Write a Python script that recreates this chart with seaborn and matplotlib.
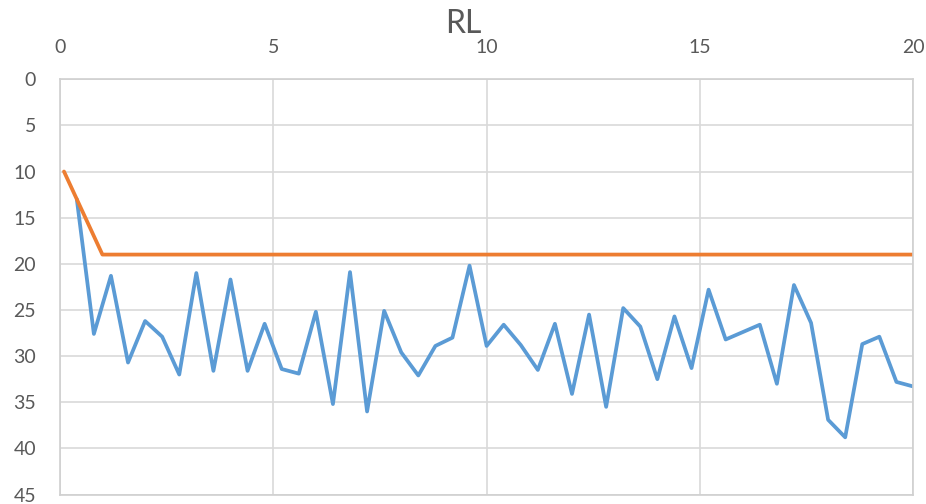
import matplotlib
matplotlib.use("Agg")
import matplotlib.pyplot as plt
import seaborn as sns
import pandas as pd

# Series data
rl_x = [0.4 * k for k in range(1, 51)]
rl_values = [13.0, 27.6, 21.3, 30.7, 26.2, 27.9, 32.0, 21.0, 31.6, 21.7,
             31.6, 26.5, 31.4, 31.9, 25.2, 35.2, 20.9, 36.0, 25.1, 29.6,
             32.1, 28.9, 28.0, 20.2, 28.9, 26.6, 28.8, 31.5, 26.5, 34.1,
             25.5, 35.5, 24.8, 26.8, 32.5, 25.7, 31.3, 22.8, 28.2, 27.4,
             26.6, 33.0, 22.3, 26.4, 36.9, 38.8, 28.7, 27.9, 32.8, 33.3]
limit_x = [0.1, 1.0, 20.0]
limit_values = [10, 19, 19]

x_ticks = [0, 5, 10, 15, 20]
y_ticks = [0, 5, 10, 15, 20, 25, 30, 35, 40, 45]

sns.set_style("white")
plt.rcParams["font.family"] = ["Lato", "DejaVu Sans"]

rl_df = pd.DataFrame({"x": rl_x, "y": rl_values})
limit_df = pd.DataFrame({"x": limit_x, "y": limit_values})

fig = plt.figure(figsize=(9.26, 5.04), dpi=100)
ax = fig.add_axes([0.0645, 0.0188, 0.922, 0.824])

sns.lineplot(data=rl_df, x="x", y="y", ax=ax, color="#5b9bd5",
             linewidth=2.7, sort=False, solid_joinstyle="round")
sns.lineplot(data=limit_df, x="x", y="y", ax=ax, color="#ed7d31",
             linewidth=2.7, sort=False, solid_joinstyle="round")

ax.set_xlim(0, 20)
ax.set_ylim(45, 0)
ax.set_xticks(x_ticks)
ax.set_yticks(y_ticks)
ax.xaxis.tick_top()
ax.set_xlabel("")
ax.set_ylabel("")
ax.grid(True, color="#d9d9d9", linewidth=1.2)
ax.set_axisbelow(True)
for s in ax.spines.values():
    s.set_color("#d0d0d0")
    s.set_linewidth(1.2)
ax.tick_params(axis="both", length=0, labelsize=14, colors="#595959")
ax.tick_params(axis="x", pad=17)
ax.tick_params(axis="y", pad=17)

fig.text(0.5, 1 - 33 / 504, "RL", ha="center", va="baseline",
         fontsize=23, color="#595959")

fig.savefig("out.png", dpi=100)
